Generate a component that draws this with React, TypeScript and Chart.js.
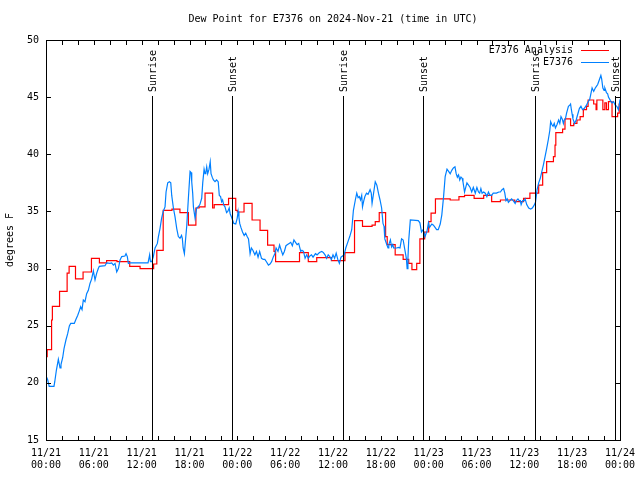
import { useEffect, useRef } from "react";
import { Chart, registerables } from "chart.js";

Chart.register(...registerables);

const TITLE = "Dew Point for E7376 on 2024-Nov-21 (time in UTC)";
const Y_LABEL = "degrees F";
const MONTH = 11;
const START_DAY = 21;
const X_MIN = 0;
const X_MAX = 72;
const X_LABEL_STEP = 6;
const X_MINOR_STEP = 2;
const Y_MIN = 15;
const Y_MAX = 50;
const Y_STEP = 5;

const SERIES_NAMES = ["E7376 Analysis", "E7376"];
const SERIES_COLORS = ["#ff0000", "#0080ff"];

const sunTimes = [13.25, 23.3, 37.3, 47.35, 61.35, 71.4];
const sunLabels = ["Sunrise", "Sunset", "Sunrise", "Sunset", "Sunrise", "Sunset"];

// hours since 11/21 00:00 UTC; analysis value starting at each time (step)
const redTimes = [
  0, 0.15, 0.7, 0.8, 1.7, 2.65, 2.9, 3.7, 4.65, 5.7, 6.7, 7.6, 8.9, 10.5, 11.8,
  13.5, 13.9, 14.7, 15.8, 16.8, 17.86, 18.8, 19.2, 19.95, 20.9, 21.1, 22.9, 23.8,
  24.0, 24.84, 25.85, 26.85, 27.8, 28.6, 28.8, 31.8, 32.9, 33.96, 35.8, 37.5,
  38.7, 39.7, 40.9, 41.3, 41.8, 42.6, 42.8, 43.8, 44.8, 45.5, 45.9, 46.5, 46.9,
  47.5, 48.0, 48.3, 48.85, 50.7, 51.8, 52.5, 53.7, 54.9, 55.9, 57.0, 58.8, 59.9,
  60.7, 61.8, 62.3, 62.8, 63.65, 63.85, 63.95, 64.8, 65.1, 65.8, 66.2, 66.6,
  67.0, 67.4, 67.8, 68.0, 68.7, 69.0, 69.1, 69.85, 70.1, 70.3, 70.55, 71.0,
  71.7, 71.9, 72,
];
const redValues = [
  22.3, 22.9, 25.5, 26.7, 28.0, 29.6, 30.2, 29.1, 29.7, 30.9, 30.5, 30.7, 30.6,
  30.2, 30.0, 30.4, 31.6, 35.1, 35.2, 34.9, 33.8, 35.3, 35.4, 36.6, 35.3, 35.6,
  36.15, 35.1, 34.95, 35.7, 34.25, 33.35, 32.05, 31.5, 30.6, 31.4, 30.6, 30.96,
  30.7, 31.4, 34.2, 33.7, 33.8, 34.1, 34.9, 32.8, 32.1, 31.2, 30.8, 30.46, 29.9,
  30.46, 32.6, 33.2, 34.1, 34.85, 36.1, 36.0, 36.3, 36.4, 36.15, 36.4, 35.85,
  36.0, 35.85, 36.15, 36.6, 37.3, 38.4, 39.35, 39.8, 40.8, 41.9, 42.2, 43.1,
  42.5, 42.7, 43.0, 43.3, 43.9, 44.2, 44.75, 44.4, 43.9, 44.75, 43.9, 44.5,
  43.9, 44.6, 43.3, 43.6, 44.4, 44.4,
];

const blueTimes = [
  0.0, 0.2, 0.4, 1.0, 1.1, 1.3, 1.55, 1.76, 1.88, 2.09, 2.26, 2.5, 2.72, 2.93,
  3.1, 3.55, 3.76, 3.97, 4.18, 4.35, 4.52, 4.68, 4.89, 5.1, 5.31, 5.52, 5.73,
  5.94, 6.15, 6.36, 6.56, 6.69, 7.4, 7.6, 8.03, 8.24, 8.45, 8.66, 8.87, 9.08,
  9.29, 9.5, 9.9, 10.04, 10.2, 10.33, 10.5, 12.8, 13.0, 13.1, 13.26, 13.45,
  13.68, 13.97, 14.1, 14.3, 14.5, 14.7, 14.93, 15.06, 15.27, 15.48, 15.65,
  15.77, 15.98, 16.19, 16.4, 16.6, 16.81, 17.0, 17.1, 17.2, 17.36, 17.44, 17.65,
  17.86, 18.07, 18.2, 18.28, 18.4, 18.49, 18.7, 18.9, 19.1, 19.3, 19.53, 19.66,
  19.83, 19.95, 20.05, 20.16, 20.28, 20.45, 20.6, 20.7, 20.85, 21.0, 21.2, 21.4,
  21.6, 21.74, 21.9, 22.03, 22.15, 22.3, 22.45, 22.65, 22.8, 22.98, 23.1, 23.27,
  23.56, 23.8, 23.98, 24.1, 24.2, 24.3, 24.45, 24.65, 24.86, 25.05, 25.23, 25.4,
  25.6, 25.76, 25.95, 26.2, 26.4, 26.6, 26.8, 27.03, 27.25, 27.45, 27.65, 27.9,
  28.1, 28.3, 28.5, 28.7, 28.86, 29.1, 29.3, 29.5, 29.7, 29.9, 30.1, 30.3, 30.5,
  30.7, 30.9, 31.1, 31.3, 31.5, 31.7, 31.95, 32.1, 32.3, 32.5, 32.7, 32.9, 33.1,
  33.3, 33.5, 33.8, 34.0, 34.3, 34.6, 34.8, 35.0, 35.2, 35.4, 35.6, 35.8, 36.0,
  36.2, 36.4, 36.6, 36.8, 37.0, 37.2, 37.4, 37.6, 37.9, 38.1, 38.35, 38.45,
  38.56, 38.8, 38.98, 39.15, 39.3, 39.45, 39.6, 39.7, 39.85, 40.0, 40.2, 40.4,
  40.65, 40.8, 40.9, 41.05, 41.3, 41.5, 41.7, 41.9, 42.1, 42.27, 42.4, 42.5,
  42.7, 42.9, 43.0, 43.2, 43.35, 43.5, 43.6, 43.8, 44.0, 44.2, 44.4, 44.6, 44.8,
  45.0, 45.2, 45.3, 45.4, 45.5, 45.7, 46.7, 46.9, 47.1, 47.3, 47.55, 47.8,
  47.97, 48.1, 48.4, 48.6, 48.8, 49.0, 49.2, 49.45, 49.65, 49.87, 50.07, 50.3,
  50.5, 50.7, 50.9, 51.1, 51.3, 51.45, 51.6, 51.75, 51.9, 52.05, 52.2, 52.3,
  52.5, 52.65, 52.8, 53.0, 53.2, 53.4, 53.6, 53.85, 54.05, 54.25, 54.4, 54.55,
  54.7, 54.9, 55.1, 55.3, 55.5, 55.7, 55.9, 56.1, 56.3, 56.5, 56.8, 57.0, 57.2,
  57.4, 57.55, 57.7, 57.85, 58.0, 58.2, 58.4, 58.6, 58.85, 59.0, 59.2, 59.35,
  59.5, 59.6, 59.8, 60.0, 60.1, 60.3, 60.55, 60.8, 61.0, 61.2, 61.4, 61.6, 61.8,
  62.0, 62.2, 62.4, 62.6, 62.8, 63.0, 63.2, 63.3, 63.45, 63.6, 63.75, 63.9,
  64.1, 64.3, 64.45, 64.6, 64.75, 64.9, 65.0, 65.15, 65.3, 65.53, 65.7, 65.8,
  65.9, 66.0, 66.1, 66.3, 66.5, 66.7, 66.9, 67.1, 67.3, 67.5, 67.8, 68.0, 68.2,
  68.5, 68.7, 68.9, 69.0, 69.2, 69.4, 69.6, 69.7, 69.85, 70.0, 70.1, 70.3,
  70.45, 70.55, 70.8, 71.0, 71.2, 71.4, 71.6, 71.8, 71.9, 72.0,
];
const blueValues = [
  20.6, 20.3, 19.7, 19.7, 20.1, 21.1, 22.06, 21.3, 21.6, 22.2, 23.0, 23.75, 24.3,
  24.98, 25.2, 25.2, 25.56, 25.9, 26.3, 26.66, 26.4, 27.25, 27.1, 27.8, 28.1,
  28.7, 29.1, 29.8, 29.0, 29.6, 30.0, 30.2, 30.25, 30.5, 30.45, 30.5, 30.3,
  30.45, 29.7, 30.0, 30.75, 31.05, 31.1, 31.3, 31.05, 30.45, 30.5, 30.5, 31.2,
  30.6, 30.6, 31.0, 31.8, 32.2, 32.8, 33.5, 34.4, 35.0, 35.4, 36.7, 37.5, 37.6,
  37.5, 36.4, 35.3, 34.5, 33.5, 32.8, 32.65, 32.9, 32.65, 31.8, 31.3, 32.0,
  33.7, 36.15, 38.5, 38.4, 37.6, 36.6, 35.4, 34.4, 35.3, 35.4, 35.6, 36.15,
  37.5, 38.7, 38.3, 38.4, 38.9, 38.3, 38.7, 39.35, 38.3, 38.0, 37.75, 37.6,
  37.75, 37.6, 36.4, 36.3, 35.85, 36.0, 35.56, 35.4, 34.9, 35.0, 35.3, 34.8,
  34.5, 33.95, 33.9, 34.4, 35.0, 34.5, 33.95, 33.6, 33.2, 32.9, 33.1, 32.8,
  32.6, 31.3, 31.8, 31.6, 31.2, 31.5, 31.0, 31.5, 30.9, 30.8, 30.8, 30.6, 30.3,
  30.4, 30.6, 31.0, 31.3, 31.8, 31.5, 32.06, 31.6, 31.2, 31.5, 32.0, 32.1,
  32.2, 32.3, 32.0, 32.5, 32.3, 32.1, 32.2, 31.5, 31.6, 31.5, 30.9, 31.2, 30.9,
  31.1, 31.2, 31.0, 31.3, 31.2, 31.4, 31.5, 31.4, 31.2, 30.9, 31.2, 31.05,
  30.8, 31.2, 30.9, 31.35, 30.8, 30.46, 31.0, 31.1, 31.2, 31.8, 32.4, 32.8,
  33.4, 34.2, 35.1, 36.0, 36.6, 36.2, 36.3, 36.0, 36.4, 35.4, 35.9, 36.3,
  36.6, 36.5, 36.9, 36.6, 35.7, 36.4, 37.6, 37.3, 36.6, 36.0, 35.3, 33.95,
  33.7, 32.6, 32.2, 31.8, 32.1, 32.5, 31.9, 32.1, 31.8, 31.8, 31.8, 31.85,
  31.8, 32.6, 32.5, 31.7, 30.9, 30.0, 30.9, 32.5, 34.25, 34.2, 34.0, 33.2,
  33.4, 32.8, 33.3, 34.0, 33.6, 33.9, 33.8, 33.6, 33.4, 33.4, 33.9, 34.7, 36.3,
  38.05, 38.7, 38.5, 38.3, 38.6, 38.8, 38.9, 38.3, 38.0, 38.2, 37.75, 38.0,
  37.9, 37.6, 36.7, 37.1, 37.5, 37.3, 37.1, 36.7, 37.1, 36.6, 37.1, 36.7, 36.6,
  37.0, 36.6, 36.7, 36.6, 36.3, 36.7, 36.4, 36.4, 36.6, 36.6, 36.6, 36.7, 36.7,
  36.9, 37.0, 36.6, 35.95, 36.1, 35.8, 35.95, 36.1, 35.95, 35.7, 35.95, 36.1,
  35.95, 35.95, 35.6, 35.95, 35.95, 36.1, 35.6, 35.3, 35.2, 35.3, 35.5, 35.8,
  36.9, 37.5, 37.9, 38.5, 39.1, 39.8, 40.5, 41.25, 42.1, 42.85, 42.6, 42.45,
  42.7, 42.3, 42.6, 43.0, 42.7, 43.3, 43.1, 42.7, 43.0, 43.1, 43.6, 44.2, 44.3,
  44.4, 43.9, 43.5, 43.1, 42.7, 43.0, 43.5, 44.0, 44.2, 43.9, 44.0, 44.3, 44.6,
  44.8, 45.8, 45.5, 45.8, 45.9, 46.1, 46.5, 46.9, 46.6, 45.8, 45.6, 45.8, 45.4,
  45.3, 45.0, 44.7, 44.5, 44.6, 44.3, 44.2, 43.9, 44.3, 44.8,
];

const FONT_FAMILY = '"DejaVu Sans Mono", "Liberation Mono", monospace';
const FONT = `10px ${FONT_FAMILY}`;

const decorPlugin = {
  id: "gnuplotDecor",
  afterDatasetsDraw(chart: any) {
    const { ctx, chartArea } = chart;
    const xs = chart.scales.x;
    const ys = chart.scales.y;
    const { left, right, top, bottom } = chartArea;
    ctx.save();
    ctx.strokeStyle = "#000";
    ctx.fillStyle = "#000";
    ctx.lineWidth = 1;

    // sunrise / sunset lines & labels
    ctx.font = FONT;
    for (let i = 0; i < sunTimes.length; i++) {
      const px = Math.round(xs.getPixelForValue(sunTimes[i])) + 0.5;
      ctx.beginPath();
      ctx.moveTo(px, top + 56);
      ctx.lineTo(px, bottom);
      ctx.stroke();
      ctx.save();
      ctx.translate(px + 1, top + 52);
      ctx.rotate(-Math.PI / 2);
      ctx.textAlign = "left";
      ctx.textBaseline = "middle";
      ctx.fillText(sunLabels[i], 0, 0);
      ctx.restore();
    }

    // frame
    ctx.strokeRect(left + 0.5, top + 0.5, right - left, bottom - top);

    // x ticks (inward, mirrored)
    for (let t = X_MIN; t <= X_MAX; t += X_MINOR_STEP) {
      const px = Math.round(xs.getPixelForValue(t)) + 0.5;
      ctx.beginPath();
      ctx.moveTo(px, bottom);
      ctx.lineTo(px, bottom - 4);
      ctx.moveTo(px, top);
      ctx.lineTo(px, top + 5);
      ctx.stroke();
    }
    // y ticks
    for (let v = Y_MIN; v <= Y_MAX; v += Y_STEP) {
      const py = Math.round(ys.getPixelForValue(v)) + 0.5;
      ctx.beginPath();
      ctx.moveTo(left, py);
      ctx.lineTo(left + 5, py);
      ctx.moveTo(right, py);
      ctx.lineTo(right - 5, py);
      ctx.stroke();
    }

    // title
    ctx.font = FONT;
    ctx.textAlign = "center";
    ctx.textBaseline = "middle";
    ctx.fillText(TITLE, (left + right) / 2, 19);

    // y label
    ctx.save();
    ctx.translate(10, (top + bottom) / 2);
    ctx.rotate(-Math.PI / 2);
    ctx.textAlign = "center";
    ctx.textBaseline = "middle";
    ctx.fillText(Y_LABEL, 0, 0);
    ctx.restore();

    // legend
    ctx.textAlign = "right";
    ctx.textBaseline = "middle";
    for (let i = 0; i < SERIES_NAMES.length; i++) {
      const y = top + 10 + i * 12;
      ctx.fillStyle = "#000";
      ctx.fillText(SERIES_NAMES[i], right - 47, y);
      ctx.strokeStyle = SERIES_COLORS[i];
      ctx.beginPath();
      ctx.moveTo(right - 39, y + 0.5);
      ctx.lineTo(right - 11, y + 0.5);
      ctx.stroke();
    }
    ctx.restore();
  },
};

export default function App() {
  const ref = useRef<HTMLCanvasElement | null>(null);
  useEffect(() => {
    if (!ref.current) return;
    const redData = redTimes.map((t, i) => ({ x: t, y: redValues[i] }));
    const blueData = blueTimes.map((t, i) => ({ x: t, y: blueValues[i] }));
    const chart = new Chart(ref.current, {
      type: "line",
      data: {
        datasets: [
          {
            label: SERIES_NAMES[0],
            data: redData,
            borderColor: SERIES_COLORS[0],
            borderWidth: 1.2,
            pointRadius: 0,
            stepped: "before",
            order: 1,
          },
          {
            label: SERIES_NAMES[1],
            data: blueData,
            borderColor: SERIES_COLORS[1],
            borderWidth: 1.2,
            pointRadius: 0,
            tension: 0,
            order: 0,
          },
        ],
      },
      options: {
        animation: false,
        responsive: false,
        events: [],
        layout: { padding: { top: 40, right: 20, left: 0, bottom: 0 } },
        plugins: {
          legend: { display: false },
          tooltip: { enabled: false },
          title: { display: false },
        },
        scales: {
          x: {
            type: "linear",
            min: X_MIN,
            max: X_MAX,
            grid: { display: false, drawTicks: false },
            border: { display: false },
            afterFit: (s: any) => {
              s.height = 40;
              s.paddingLeft = 0;
              s.paddingRight = 0;
            },
            ticks: {
              stepSize: X_LABEL_STEP,
              autoSkip: false,
              maxRotation: 0,
              padding: 7,
              color: "#000",
              font: { family: FONT_FAMILY, size: 10 },
              callback: (value: any) => {
                const v = Number(value);
                const day = START_DAY + Math.floor(v / 24);
                const hr = v % 24;
                return [`${MONTH}/${day}`, `${String(hr).padStart(2, "0")}:00`];
              },
            },
          },
          y: {
            min: Y_MIN,
            max: Y_MAX,
            grid: { display: false, drawTicks: false },
            border: { display: false },
            afterFit: (s: any) => {
              s.width = 46;
              s.paddingTop = 0;
              s.paddingBottom = 0;
            },
            ticks: {
              stepSize: Y_STEP,
              padding: 7,
              color: "#000",
              font: { family: FONT_FAMILY, size: 10 },
            },
          },
        },
      },
      plugins: [decorPlugin],
    });
    return () => chart.destroy();
  }, []);
  return (
    <canvas
      ref={ref}
      width={640}
      height={480}
      style={{ position: "fixed", left: 0, top: 0, width: 640, height: 480, display: "block", background: "#fff" }}
    />
  );
}
